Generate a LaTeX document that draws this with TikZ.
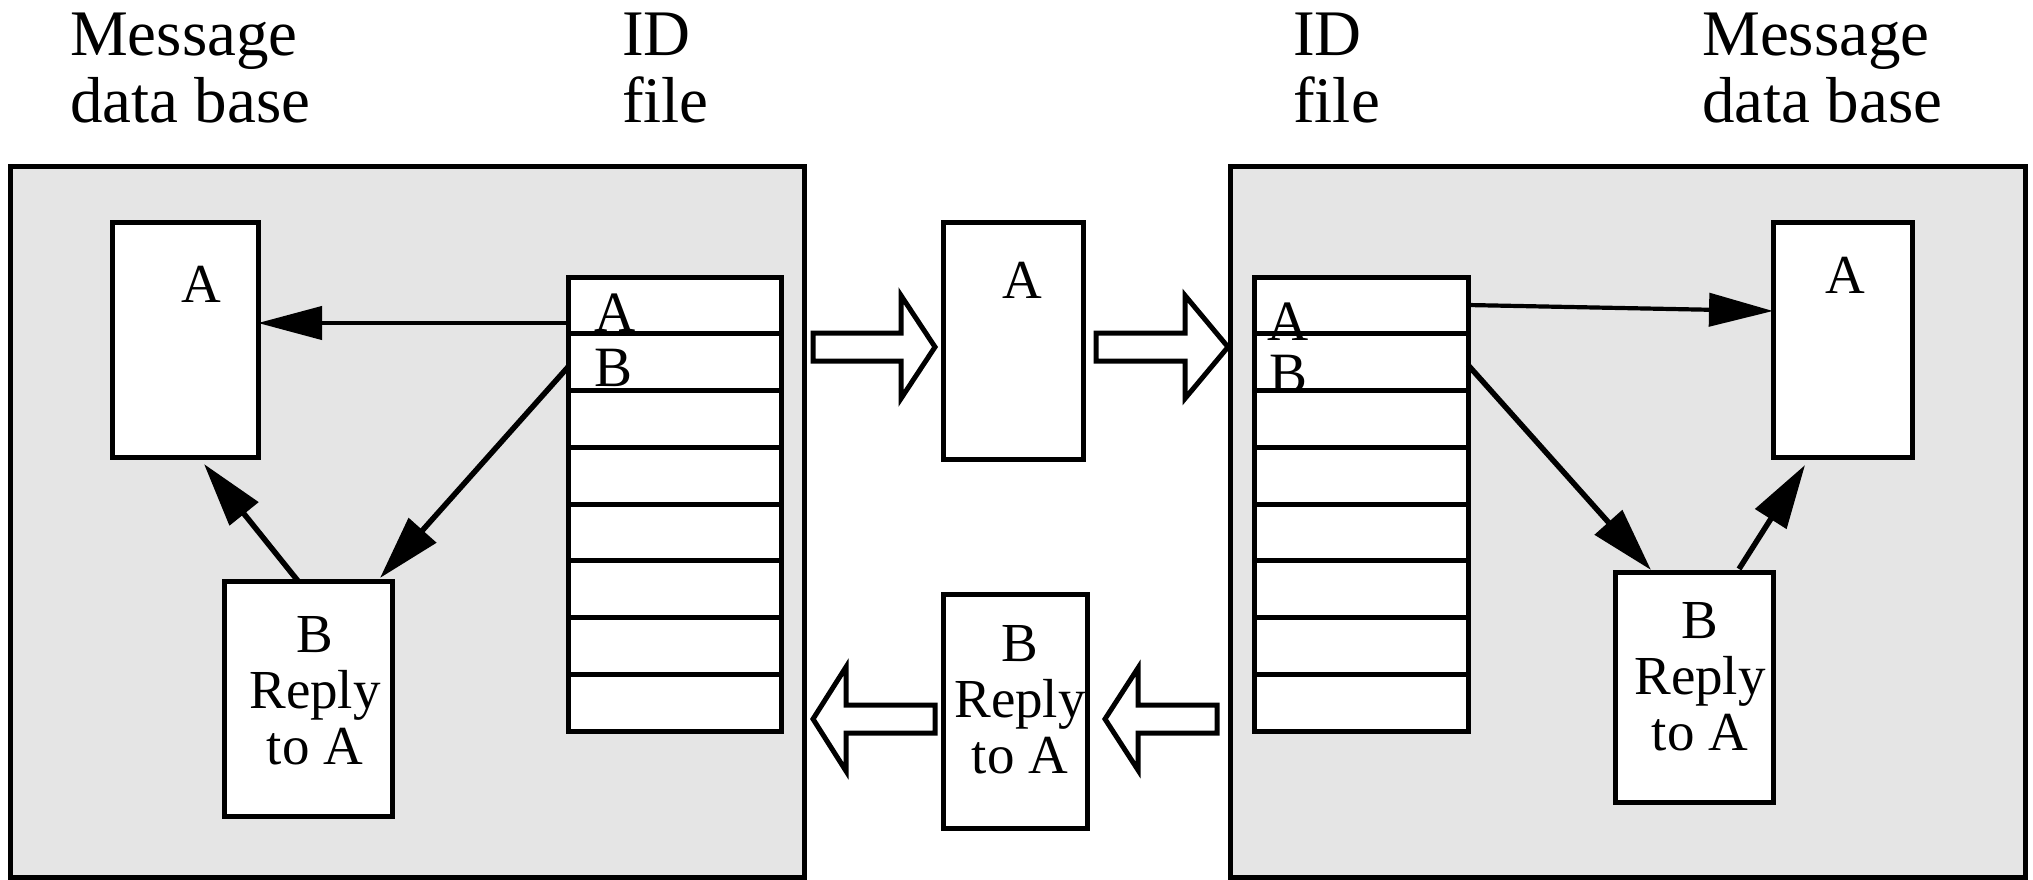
\documentclass[tikz,border=0pt]{standalone}
\usepackage{fontspec}
\setmainfont{Liberation Serif}
\usetikzlibrary{arrows.meta,calc}
\definecolor{panel}{RGB}{229,229,229}
\newcommand\hollowarrow[5]{%
  \draw[hollow] ($(#1)+(0,-#4)$) -- ($(#1)+(#2,-#4)$) -- ($(#1)+(#2,-#5)$) -- ($(#1)+(#3,0)$) -- ($(#1)+(#2,#5)$) -- ($(#1)+(#2,#4)$) -- ($(#1)+(0,#4)$) -- cycle;}
\begin{document}
\begin{tikzpicture}[x=1pt,y=-1pt,
  box/.style={draw,fill=white,line width=5pt,inner sep=0pt,outer sep=0pt},
  panelbox/.style={draw,fill=panel,line width=5pt,inner sep=0pt,outer sep=0pt},
  head/.style={inner sep=0pt,anchor=north west,align=left,font=\fontsize{65}{67}\selectfont},
  lbl/.style={inner sep=0pt,anchor=base,font=\fontsize{55}{56}\selectfont},
  rowlbl/.style={inner sep=0pt,anchor=base west,font=\fontsize{57}{57}\selectfont},
  multi/.style={inner sep=0pt,anchor=north,align=center,font=\fontsize{55}{56}\selectfont},
  arr/.style={line width=5.5pt,-{Triangle[length=64pt,width=36pt]}},
  thinarr/.style={line width=4.2pt,-{Triangle[length=64pt,width=33pt]}},
  hollow/.style={draw,fill=white,line width=5pt,line join=miter},
  rowline/.style={line width=5pt}]
\useasboundingbox (0,0) rectangle (2033,879);

% headers
\node[head] (hmsgL) at (70,12.5) {Message\\data base};
\node[head] (hidL)  at (622,12.5) {ID\\file};
\node[head] (hidR)  at (1293,12.5) {ID\\file};
\node[head] (hmsgR) at (1702,12.5) {Message\\data base};

% panels
\node[panelbox,minimum width=794pt,minimum height=711pt] (lg) at (407,521.5) {};
\node[panelbox,minimum width=795pt,minimum height=711pt] (rg) at (1627.5,521.5) {};

% boxes
\node[box,minimum width=146pt,minimum height=235pt] (la) at (185,339.5) {};
\node[box,minimum width=168pt,minimum height=235pt] (lb) at (308,698.5) {};
\node[box,minimum width=213pt,minimum height=454pt] (lt) at (674.5,504) {};
\node[box,minimum width=140pt,minimum height=237pt] (ma) at (1013,340.5) {};
\node[box,minimum width=144pt,minimum height=234pt] (mb) at (1015,711) {};
\node[box,minimum width=214pt,minimum height=454pt] (rt) at (1361,504) {};
\node[box,minimum width=139pt,minimum height=235pt] (ra) at (1842.5,339.5) {};
\node[box,minimum width=158pt,minimum height=230pt] (rb) at (1694,687) {};

% table rows
\foreach \k in {1,...,7}{
  \draw[rowline] ($(lt.north west)!\k/8!(lt.south west)$) -- ($(lt.north east)!\k/8!(lt.south east)$);
  \draw[rowline] ($(rt.north west)!\k/8!(rt.south west)$) -- ($(rt.north east)!\k/8!(rt.south east)$);
}

% labels
\node[lbl] (laA) at (201,302) {A};
\node[lbl] (maA) at (1022,298) {A};
\node[lbl] (raA) at (1845,293) {A};
\node[multi] (lbT) at (315,616) {B\\Reply\\to A};
\node[multi] (mbT) at (1020,625) {B\\Reply\\to A};
\node[multi] (rbT) at (1700,602) {B\\Reply\\to A};
\node[rowlbl] (ltA) at (594,331) {A};
\node[rowlbl] (ltB) at (594,386) {B};
\node[rowlbl] (rtA) at (1267,340) {A};
\node[rowlbl] (rtB) at (1269,392) {B};

% connectors, left
\coordinate (lAo) at ($(lt.north west)+(0,46)$);
\draw[thinarr] (lAo) -- (lAo -| la.east);
\draw[arr] ($(lt.north west)+(0,90)$) -- ($(lb.north east)+(-12,-3)$);
\draw[arr] ($(lb.north west)+(74,0)$) -- ($(la.south west)+(92,7)$);

% connectors, right
\draw[thinarr] ($(rt.north east)+(0,28)$) -- ($(ra.north west)+(0,89)$);
\draw[arr] ($(rt.north east)+(0,88)$) -- ($(rb.north west)+(36,-2)$);
\draw[arr] ($(rb.north west)+(124,-3)$) -- ($(ra.south west)+(32,8)$);

% hollow transfer arrows
\coordinate (h1) at (813,347);
\coordinate (h2) at (1096,347);
\coordinate (h3) at (935,719);
\coordinate (h4) at (1217,719);
\hollowarrow{h1}{88}{122}{14}{51.5}
\hollowarrow{h2}{89}{132}{14}{51.5}
\hollowarrow{h3}{-89}{-122}{14}{52}
\hollowarrow{h4}{-79}{-112}{14}{51}
\end{tikzpicture}
\end{document}
